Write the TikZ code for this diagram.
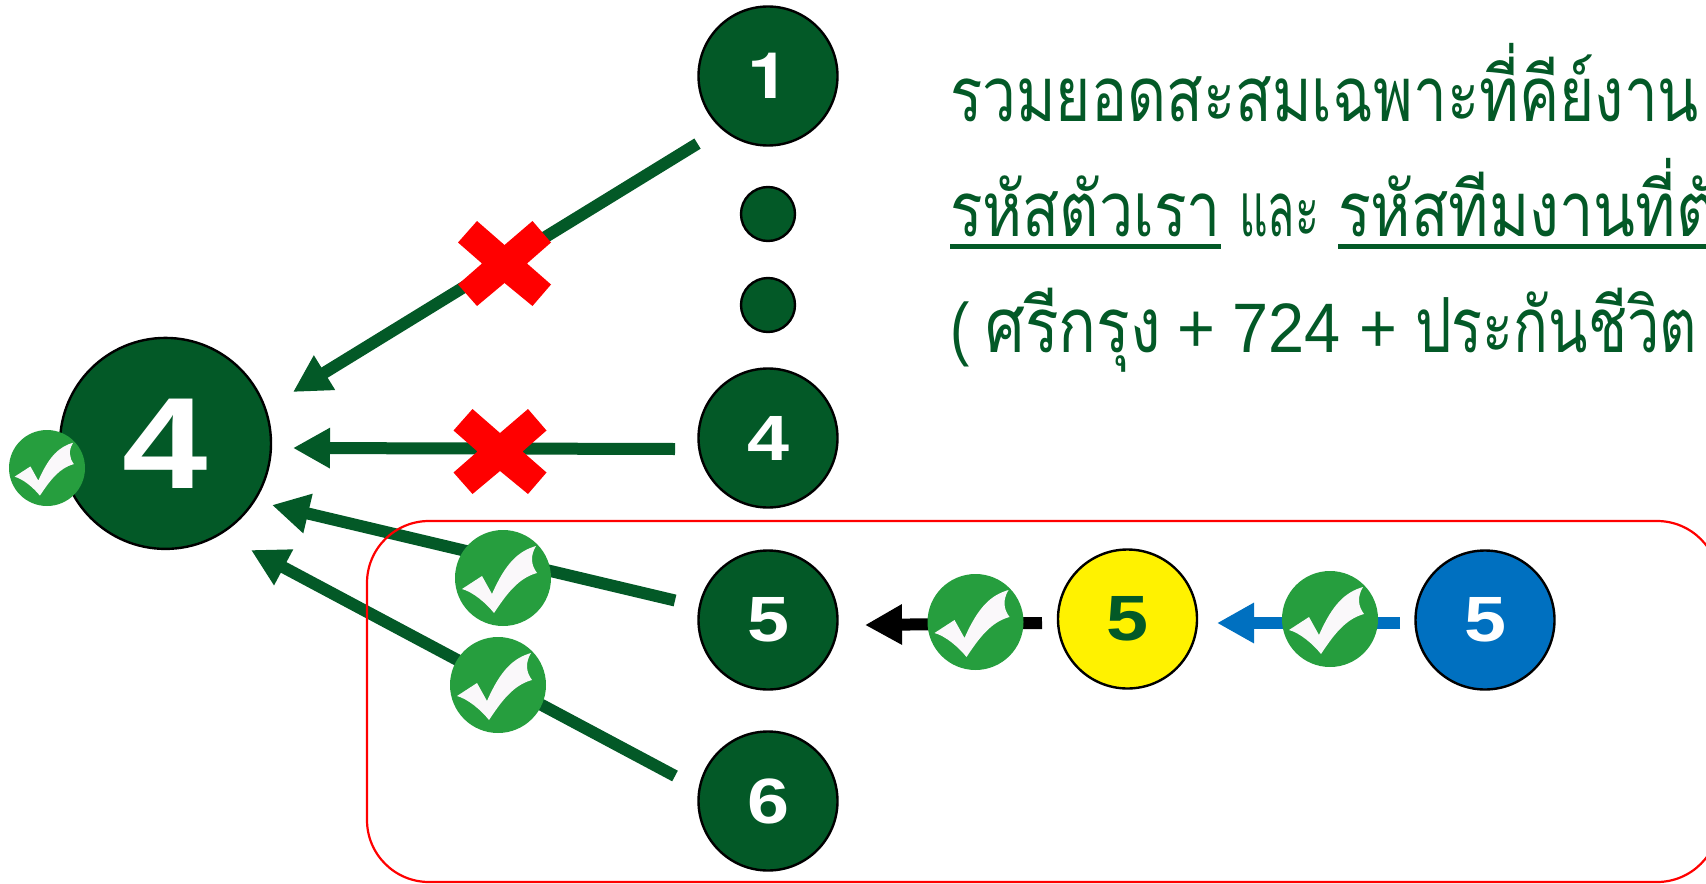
\documentclass[tikz,border=0pt]{standalone}
\usepackage{fontspec}
\usepackage{graphicx}
\usetikzlibrary{arrows.meta}
\newfontfamily\thaifont[Script=Thai]{Loma}
\newfontfamily\latinfont{Liberation Sans}
\newfontfamily\numfont[FakeStretch=1.18]{Liberation Sans Bold}
\newfontfamily\onefont[FakeStretch=1.18]{TeX Gyre Heros}
\definecolor{dkgreen}{HTML}{035927}
\definecolor{okgreen}{HTML}{269E3E}
\definecolor{okblue}{HTML}{0070C0}
\definecolor{tickwhite}{HTML}{FAF8FA}
\newcommand{\numsize}{\fontsize{32}{36}\selectfont}
\newcommand{\bignumsize}{\fontsize{65}{70}\selectfont}
\newcommand{\thaisize}{\fontsize{38}{44}\selectfont}
\newcommand{\fitw}[2]{\resizebox{#1}{\height}{#2}}
\newcommand{\lat}[1]{{\latinfont\fontsize{35}{44}\selectfont #1}}
\tikzset{
  x=0.5pt,y=-0.5pt,
  numcircle/.style={circle,draw=black,line width=1.2pt,minimum size=69.5pt,inner sep=0pt,outer sep=0pt,fill=dkgreen,text=white,font=\numfont\numsize},
  dotcircle/.style={circle,draw=black,line width=1.2pt,minimum size=27pt,inner sep=0pt,outer sep=0pt,fill=dkgreen},
  badge/.style={circle,minimum size=48pt,inner sep=0pt,outer sep=0pt,fill=okgreen},
  smallbadge/.style={badge,minimum size=38pt},
  arrowline/.style={line width=6pt,-{Triangle[length=18.5pt,width=19pt]}},
  thaitext/.style={anchor=base west,inner sep=0pt,outer sep=0pt,text=dkgreen,font=\thaifont\thaisize},
  tickmark/.pic={\fill[tickwhite] (-41,11) -- (-21,-2) -- (-11,16) .. controls (3,-16) and (16,-27) .. (33,-32) .. controls (27,-22) and (28,-13) .. (34,-5) .. controls (15,0) and (3,17) .. (-9,35) .. controls (-17,25) and (-30,14) .. (-41,11) -- cycle;},
  crossmark/.pic={\fill[red] (-27.5,-42.5) -- (0,-18.5) -- (28,-42.5) -- (46.5,-21) -- (22.5,0) -- (46.5,21) -- (28,42.5) -- (0,19.5) -- (-27.5,42.5) -- (-46.5,21) -- (-22.5,0) -- (-46.5,-21) -- cycle;},
}
\begin{document}
\begin{tikzpicture}
\useasboundingbox (0,0) rectangle (1706,883);
% connector ends
\coordinate (s1) at (697.5,143.6); \coordinate (t1) at (293,392);
\coordinate (s2) at (675,449);     \coordinate (t2) at (293,448);
\coordinate (s3) at (675,600.5);   \coordinate (t3) at (272,505);
\coordinate (s4) at (675,776);     \coordinate (t4) at (251,550);
\coordinate (s5) at (1042,623);    \coordinate (t5) at (865,625);
\coordinate (s6) at (1400,623);    \coordinate (t6) at (1217,623);
% arrows
\draw[arrowline,dkgreen] (s1) -- (t1);
\draw[arrowline,dkgreen] (s2) -- (t2);
\draw[arrowline,dkgreen] (s3) -- (t3);
\draw[arrowline,dkgreen] (s4) -- (t4);
\draw[arrowline,black] (s5) -- (t5);
\draw[arrowline,okblue] (s6) -- (t6);
% frame
\draw[red,line width=1.1pt,rounded corners=31pt] (367,521) rectangle (1719,882);
% circles
\node[numcircle,minimum size=105.5pt,font=\numfont\bignumsize] (big) at (165.5,443.4) {4};
\node[numcircle,font=\onefont\bfseries\numsize] (c1) at (768,76) {1};
\node[dotcircle] (d1) at (768,214) {};
\node[dotcircle] (d2) at (768,305) {};
\node[numcircle] (c4) at (768,438) {4};
\node[numcircle] (c5) at (768,620) {5};
\node[numcircle] (c6) at (768,801) {6};
\node[numcircle,fill=yellow,text=dkgreen] (y5) at (1127.5,619) {5};
\node[numcircle,fill=okblue] (b5) at (1485,620) {5};
% badges
\node[smallbadge] (k0) at (47,468) {};
\pic[scale=0.79] at (k0) {tickmark};
\node[badge] (k1) at (503,578) {};
\pic at (k1) {tickmark};
\node[badge] (k2) at (498,685) {};
\pic at (k2) {tickmark};
\node[badge] (k3) at (975.5,622) {};
\pic at (k3) {tickmark};
\node[badge] (k4) at (1330,619) {};
\pic at (k4) {tickmark};
% crosses
\pic at (504.5,263.5) {crossmark};
\pic at (500,451.5) {crossmark};
% text
\node[thaitext] (l1) at (950,121) {\fitw{374.5pt}{รวมยอดสะสมเฉพาะที่คีย์งาน}};
\node[thaitext] (l2a) at (950,236) {\fitw{135.5pt}{รหัสตัวเรา}};
\node[thaitext] (l2b) at (1239,236) {\fitw{40pt}{และ}};
\node[thaitext] (l2c) at (1338,236) {\fitw{189pt}{รหัสทีมงานที่ตั}};
\node[thaitext] (l3) at (950,352) {\fitw{113.5pt}{\lat{( }ศรีกรุง\lat{ }}\fitw{119pt}{\lat{+ 724 + }}\fitw{141pt}{ประกันชีวิต}};
% underlines
\fill[dkgreen] (950,244) rectangle (1221,249);
\fill[dkgreen] (1338,244) rectangle (1706,249);
\end{tikzpicture}
\end{document}
